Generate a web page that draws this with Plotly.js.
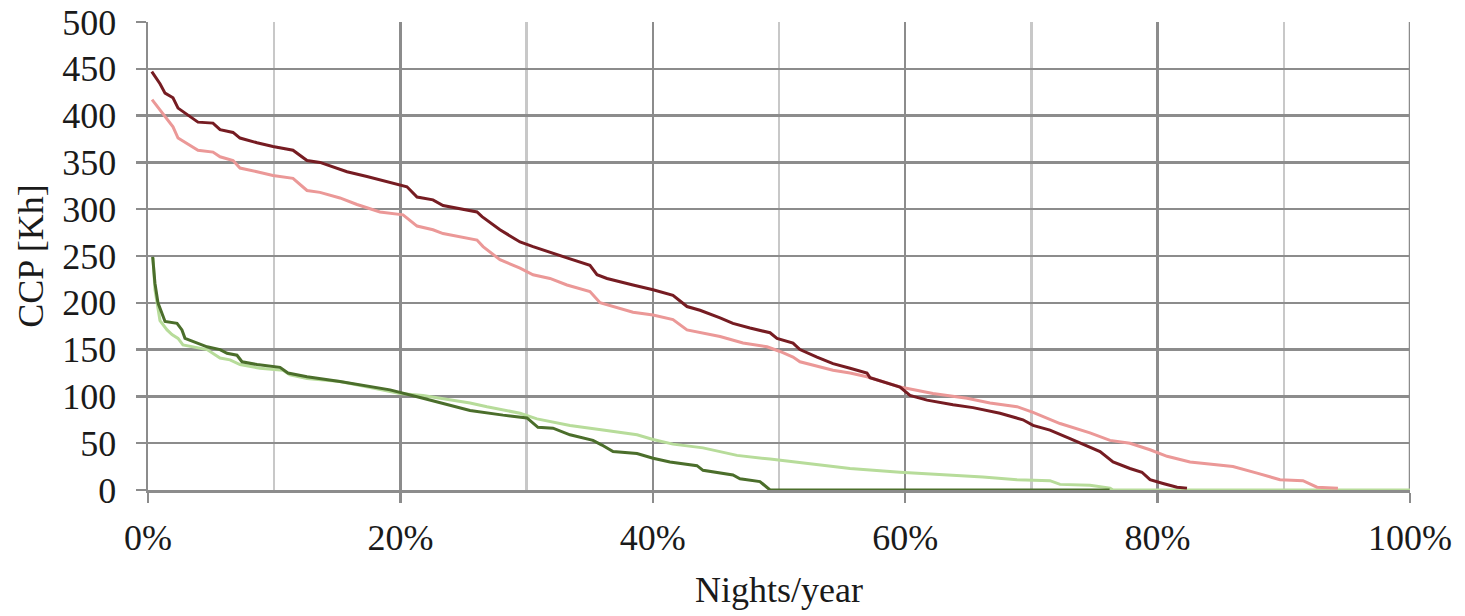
<!DOCTYPE html>
<html>
<head>
<meta charset="utf-8">
<script src="https://cdn.plot.ly/plotly-3.0.1.min.js"></script>
<style>
  html, body { margin: 0; padding: 0; background: #ffffff; }
  #chart { width: 1465px; height: 616px; }
</style>
</head>
<body>
<div id="chart"></div>
<script>
// Cumulative cold-pool (CCP) duration curves: share of nights per year vs CCP [Kh]

// Dark red series
const redDarkX = [0.3, 0.95, 1.35, 1.98, 2.38, 3.96, 5.15, 5.71, 6.74, 7.29, 8.64, 9.9, 11.49, 12.6, 13.63, 14.66, 15.77, 17.35, 19.41, 20.52, 21.32, 22.58, 23.38, 26.07, 26.47, 27.89, 29.48, 30.51, 33.2, 35.02, 35.58, 36.37, 38.43, 40.02, 41.6, 42.71, 43.74, 45.33, 46.35, 47.7, 49.29, 49.84, 51.11, 51.66, 53.01, 54.28, 55.63, 56.97, 57.21, 58.56, 59.59, 60.38, 61.73, 63.79, 65.37, 67.51, 69.33, 70.13, 71.47, 73.06, 74.64, 75.44, 76.47, 77.81, 78.76, 79.4, 80.43, 81.54, 82.33];
const redDarkY = [447, 434, 424, 419, 408, 393, 392, 385, 382, 376, 371, 367, 363, 352, 350, 345, 340, 335, 328, 324, 313, 310, 304, 297, 292, 278, 265, 260, 248, 240, 230, 226, 219, 214, 208, 196, 192, 184, 178, 173, 168, 162, 157, 150, 142, 135, 130, 125, 120, 114, 110, 101, 96, 91, 88, 82, 75, 69, 64, 55, 46, 41, 30, 23, 19, 11, 7, 3, 2];

// Light red series
const redLightX = [0.32, 0.95, 1.98, 2.38, 3.96, 5.15, 5.71, 6.74, 7.29, 8.64, 9.9, 11.49, 12.6, 13.63, 15.21, 16.56, 18.38, 20.21, 21.32, 22.58, 23.38, 26.07, 26.55, 27.89, 29.48, 30.51, 31.85, 33.2, 35.02, 35.82, 38.43, 40.02, 41.6, 42.71, 45.33, 47.15, 49.05, 50.08, 51.11, 51.66, 53.01, 54.28, 55.63, 56.97, 59.59, 62.2, 64.9, 66.72, 68.86, 70.13, 72.27, 74.64, 76.23, 77.81, 79.4, 80.75, 82.57, 85.97, 87.88, 89.7, 91.52, 92.63, 94.29];
const redLightY = [417, 406, 388, 376, 363, 361, 356, 352, 344, 340, 336, 333, 320, 318, 312, 305, 297, 294, 282, 278, 274, 267, 260, 246, 237, 230, 226, 219, 212, 200, 190, 187, 182, 171, 164, 157, 153, 148, 142, 137, 132, 128, 125, 121, 110, 103, 98, 93, 89, 83, 71, 61, 53, 50, 43, 36, 30, 25, 18, 11, 10, 3, 2];

// Dark green series
const greenDarkX = [0.37, 0.55, 0.79, 1.35, 2.3, 2.69, 2.93, 3.88, 4.68, 5.71, 6.26, 7.05, 7.45, 8.64, 10.46, 11.09, 12.6, 15.21, 17.83, 19.18, 21.79, 23.14, 25.52, 28.13, 30.03, 30.9, 32.09, 33.44, 35.26, 35.97, 36.85, 38.75, 40.02, 41.36, 43.5, 43.98, 46.35, 46.91, 48.49, 49.29, 76.2];
const greenDarkY = [249, 221, 200, 180, 178, 171, 162, 157, 153, 150, 146, 144, 137, 134, 131, 125, 121, 116, 110, 107, 98, 93, 85, 80, 77, 67, 66, 59, 53, 48, 41, 39, 34, 30, 26, 21, 16, 12, 9, 0, 0];

// Light green series
const greenLightX = [0.4, 0.55, 0.95, 1.51, 1.9, 2.38, 2.77, 4.68, 5.71, 6.5, 7.29, 8.87, 10.7, 11.25, 12.6, 15.21, 17.83, 19.97, 21.79, 25.52, 26.86, 29.48, 30.82, 33.44, 36.05, 38.75, 40.02, 41.6, 43.98, 46.67, 49.29, 51.66, 55.63, 59.59, 63.55, 66.16, 68.86, 71.47, 72.27, 74.64, 76.23, 76.47, 100];
const greenLightY = [248, 214, 181, 171, 166, 162, 155, 150, 141, 139, 134, 130, 128, 123, 119, 116, 109, 103, 101, 93, 89, 82, 76, 69, 64, 59, 54, 49, 45, 37, 33, 29, 23, 19, 16, 14, 11, 10, 6, 5, 2, 0, 0];

// Axis ticks
const xTickVals = [0, 20, 40, 60, 80, 100];
const xTickText = ['0%', '20%', '40%', '60%', '80%', '100%'];
const yTickVals = [0, 50, 100, 150, 200, 250, 300, 350, 400, 450, 500];

const darkGrid = '#8c8c8c';
const lightGrid = '#c8c8c8';
const serif = 'Liberation Serif, Times New Roman, serif';
const textFont = { family: serif, size: 36, color: '#1a1a1a' };

function line(x, y, color) {
  return {
    x: x, y: y, type: 'scatter', mode: 'lines',
    line: { color: color, width: 3 },
    hoverinfo: 'skip', cliponaxis: false
  };
}

const traces = [
  line(greenLightX, greenLightY, '#b7dc9a'),
  line(greenDarkX, greenDarkY, '#4b6e2b'),
  line(redLightX, redLightY, '#eb9897'),
  line(redDarkX, redDarkY, '#761c22')
];

const layout = {
  width: 1465, height: 616,
  margin: { l: 148, r: 55, t: 22, b: 126 },
  paper_bgcolor: '#ffffff', plot_bgcolor: '#ffffff',
  showlegend: false,
  font: textFont,
  xaxis: {
    range: [0, 100], fixedrange: true,
    tickvals: xTickVals, ticktext: xTickText,
    showgrid: true, gridcolor: darkGrid, gridwidth: 2.5,
    ticks: 'outside', ticklen: 10, tickwidth: 2.5, tickcolor: darkGrid,
    ticklabelstandoff: 4,
    showline: true, linecolor: darkGrid, linewidth: 2.5,
    zeroline: false,
    minor: { dtick: 10, tick0: 0, showgrid: true, gridcolor: lightGrid, gridwidth: 2.5, ticks: '' },
    tickfont: textFont,
    title: { text: 'Nights/year', font: textFont, standoff: 20 }
  },
  yaxis: {
    range: [0, 500], fixedrange: true,
    tickvals: yTickVals,
    showgrid: true, gridcolor: darkGrid, gridwidth: 2.5,
    ticks: 'outside', ticklen: 10, tickwidth: 2.5, tickcolor: darkGrid,
    ticklabelstandoff: 12,
    showline: true, linecolor: darkGrid, linewidth: 2.5,
    zeroline: false,
    tickfont: textFont,
    title: { text: 'CCP [Kh]', font: textFont, standoff: 8 }
  }
};

// Right-hand border of the plot at 100%
layout.shapes = [{
  type: 'line', xref: 'x', yref: 'y', x0: 100, x1: 100, y0: 0, y1: 500,
  line: { color: darkGrid, width: 2.5 }, layer: 'below'
}];

Plotly.newPlot('chart', traces, layout, { displayModeBar: false, staticPlot: true });
</script>
</body>
</html>
